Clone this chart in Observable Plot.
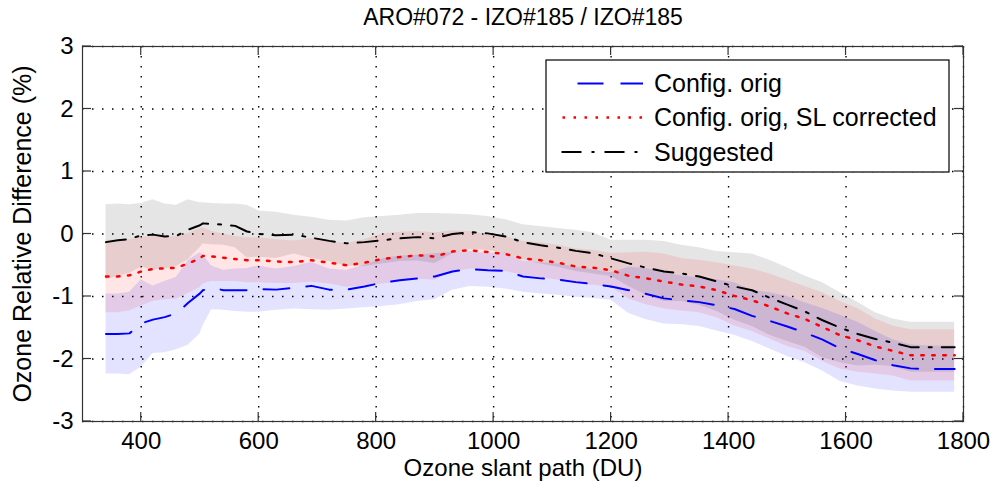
<!DOCTYPE html>
<html><head><meta charset="utf-8">
<script src="https://cdn.jsdelivr.net/npm/d3@7"></script>
<script src="https://cdn.jsdelivr.net/npm/@observablehq/plot@0.6"></script>
<style>
html,body{margin:0;padding:0;background:#fff;}
#chart svg{display:block;}
</style></head><body><div id="chart"></div>
<script>
const title = "ARO#072 - IZO#185 / IZO#185";
const xLabel = "Ozone slant path (DU)";
const yLabel = "Ozone Relative Difference (%)";
const seriesNames = ["Config. orig", "Config. orig, SL corrected", "Suggested"];
const xTicks = [400, 600, 800, 1000, 1200, 1400, 1600, 1800];
const yTicks = [-3, -2, -1, 0, 1, 2, 3];

const slantPath = [340,360,380,400,420,440,460,480,500,505,520,540,560,580,600,630,660,690,720,750,780,810,840,870,900,930,960,990,1020,1050,1080,1110,1140,1170,1200,1230,1260,1290,1320,1350,1380,1410,1440,1470,1500,1530,1560,1590,1620,1650,1680,1710,1740,1785];

// Config. orig (blue)
const origMean = [-1.60,-1.60,-1.59,-1.43,-1.37,-1.33,-1.27,-1.10,-0.95,-0.90,-0.86,-0.90,-0.90,-0.90,-0.88,-0.89,-0.86,-0.83,-0.89,-0.89,-0.84,-0.78,-0.74,-0.71,-0.68,-0.60,-0.56,-0.58,-0.59,-0.68,-0.71,-0.73,-0.77,-0.80,-0.84,-0.90,-0.96,-1.03,-1.06,-1.09,-1.14,-1.20,-1.31,-1.39,-1.48,-1.58,-1.69,-1.83,-1.92,-2.02,-2.10,-2.15,-2.16,-2.16];
const origSpread = [0.64,0.64,0.66,0.70,0.54,0.57,0.58,0.68,0.65,0.57,0.35,0.32,0.34,0.35,0.37,0.33,0.34,0.38,0.33,0.31,0.34,0.38,0.39,0.37,0.37,0.30,0.28,0.27,0.29,0.25,0.25,0.25,0.24,0.23,0.22,0.37,0.41,0.41,0.39,0.39,0.41,0.42,0.41,0.45,0.48,0.48,0.50,0.53,0.51,0.46,0.41,0.38,0.37,0.37];

// Config. orig, SL corrected (red)
const slMean = [-0.68,-0.68,-0.66,-0.60,-0.56,-0.55,-0.54,-0.47,-0.39,-0.35,-0.36,-0.38,-0.40,-0.42,-0.42,-0.44,-0.45,-0.42,-0.46,-0.50,-0.46,-0.40,-0.37,-0.34,-0.36,-0.28,-0.26,-0.29,-0.32,-0.39,-0.42,-0.46,-0.52,-0.54,-0.58,-0.67,-0.71,-0.76,-0.81,-0.84,-0.90,-0.99,-1.06,-1.16,-1.27,-1.36,-1.49,-1.62,-1.70,-1.80,-1.87,-1.94,-1.94,-1.94];
const slSpread = [0.58,0.58,0.57,0.55,0.52,0.50,0.50,0.48,0.47,0.45,0.40,0.38,0.36,0.36,0.36,0.35,0.34,0.35,0.34,0.35,0.37,0.40,0.40,0.38,0.38,0.33,0.30,0.28,0.28,0.27,0.28,0.28,0.28,0.28,0.27,0.37,0.42,0.44,0.42,0.42,0.44,0.48,0.50,0.52,0.53,0.52,0.55,0.54,0.51,0.44,0.40,0.41,0.41,0.41];

// Suggested (black)
const suggMean = [-0.13,-0.10,-0.08,-0.02,-0.01,-0.04,-0.03,0.07,0.14,0.17,0.16,0.15,0.13,0.04,0.00,-0.02,-0.01,-0.06,-0.11,-0.15,-0.13,-0.10,-0.07,-0.05,-0.07,0.00,0.03,0.01,-0.04,-0.13,-0.18,-0.22,-0.27,-0.31,-0.39,-0.47,-0.54,-0.60,-0.63,-0.68,-0.76,-0.84,-0.90,-1.02,-1.13,-1.24,-1.38,-1.50,-1.60,-1.68,-1.74,-1.81,-1.81,-1.81];
const suggSpread = [0.60,0.58,0.55,0.51,0.56,0.52,0.49,0.48,0.36,0.33,0.33,0.33,0.35,0.42,0.37,0.37,0.31,0.33,0.33,0.36,0.39,0.38,0.37,0.38,0.40,0.32,0.28,0.27,0.27,0.28,0.30,0.31,0.33,0.33,0.29,0.37,0.44,0.48,0.45,0.46,0.48,0.54,0.58,0.60,0.59,0.57,0.60,0.56,0.51,0.42,0.38,0.40,0.40,0.40];

const colors = ["#0000ff", "#ff0000", "#000000"];
const dashes = ["26,17", "2.5,8.5", "20,10,3,10"];

const rows = slantPath.map((x, i) => ({
  x,
  o: origMean[i], os: origSpread[i],
  s: slMean[i], ss: slSpread[i],
  g: suggMean[i], gs: suggSpread[i]
}));

const font = '"Liberation Sans", Arial, Helvetica, sans-serif';

const plot = Plot.plot({
  width: 993,
  height: 492,
  marginLeft: 82,
  marginRight: 30,
  marginTop: 46,
  marginBottom: 71,
  style: {fontFamily: font, fontSize: "24px", color: "#000", background: "#fff", overflow: "visible"},
  x: {domain: [300, 1800], label: null},
  y: {domain: [-3, 3], label: null},
  marks: [
    Plot.gridX(xTicks, {stroke: "#000", strokeOpacity: 1, strokeWidth: 1.4, strokeDasharray: "1.5,8.5"}),
    Plot.gridY(yTicks, {stroke: "#000", strokeOpacity: 1, strokeWidth: 1.4, strokeDasharray: "1.5,8.5"}),
    Plot.areaY(rows, {x: "x", y1: d => d.g - d.gs, y2: d => d.g + d.gs, fill: "#000000", fillOpacity: 0.1}),
    Plot.areaY(rows, {x: "x", y1: d => d.s - d.ss, y2: d => d.s + d.ss, fill: "#ff0000", fillOpacity: 0.1}),
    Plot.areaY(rows, {x: "x", y1: d => d.o - d.os, y2: d => d.o + d.os, fill: "#0000ff", fillOpacity: 0.11}),
    Plot.line(rows, {x: "x", y: "o", stroke: colors[0], strokeWidth: 2, strokeDasharray: dashes[0]}),
    Plot.line(rows, {x: "x", y: "s", stroke: colors[1], strokeWidth: 2.5, strokeDasharray: dashes[1]}),
    Plot.line(rows, {x: "x", y: "g", stroke: colors[2], strokeWidth: 2, strokeDasharray: dashes[2]}),
    Plot.frame({stroke: "#333", strokeWidth: 1.2}),
    Plot.axisX(xTicks, {tickSize: 0, tickPadding: 10, fontSize: 24, tickFormat: d => String(d), label: null}),
    Plot.axisY(yTicks, {tickSize: 0, tickPadding: 9, fontSize: 24, tickFormat: d => String(d), label: null}),
    Plot.text([title], {text: d => d, frameAnchor: "top", lineAnchor: "middle", textAnchor: "middle", dy: -29, fontSize: 23}),
    Plot.text([xLabel], {text: d => d, frameAnchor: "bottom", lineAnchor: "middle", textAnchor: "middle", dy: 47, fontSize: 24}),
    Plot.text([yLabel], {text: d => d, frameAnchor: "left", lineAnchor: "middle", textAnchor: "middle", dx: -60, rotate: -90, fontSize: 25})
  ]
});

document.getElementById("chart").appendChild(plot);

// inward tick marks on all four sides (MATLAB box style), positioned by Plot's scales
const svg = d3.select(plot);
const sx = plot.scale("x"), sy = plot.scale("y");
const [L, R] = sx.range;
const [B, T] = sy.range;
const tl = 9;
const tg = svg.append("g").attr("stroke", "#333").attr("stroke-width", 1.2);
xTicks.forEach(v => {
  const px = sx.apply(v);
  tg.append("line").attr("x1", px).attr("x2", px).attr("y1", B).attr("y2", B - tl);
  tg.append("line").attr("x1", px).attr("x2", px).attr("y1", T).attr("y2", T + tl);
});
yTicks.forEach(v => {
  const py = sy.apply(v);
  tg.append("line").attr("x1", L).attr("x2", L + tl).attr("y1", py).attr("y2", py);
  tg.append("line").attr("x1", R).attr("x2", R - tl).attr("y1", py).attr("y2", py);
});

// legend box (top right, as in the original)
const lg = svg.append("g");
const lx = 546, ly = 60, lw = 403, lh = 112;
lg.append("rect").attr("x", lx).attr("y", ly).attr("width", lw).attr("height", lh)
  .attr("fill", "#fff").attr("stroke", "#000").attr("stroke-width", 1.2);
const rowY = [83.5, 117.5, 152];
const offsets = [27, 10, 0];
seriesNames.forEach((name, i) => {
  lg.append("line").attr("x1", 561.5).attr("x2", 643).attr("y1", rowY[i]).attr("y2", rowY[i])
    .attr("stroke", colors[i]).attr("stroke-width", i === 1 ? 2.5 : 2)
    .attr("stroke-dasharray", dashes[i]).attr("stroke-dashoffset", offsets[i]);
  lg.append("text").attr("x", 654).attr("y", rowY[i]).attr("dy", "0.35em")
    .attr("text-anchor", "start")
    .attr("font-family", font).attr("font-size", 25).attr("fill", "#000").text(name);
});
</script>
</body></html>
